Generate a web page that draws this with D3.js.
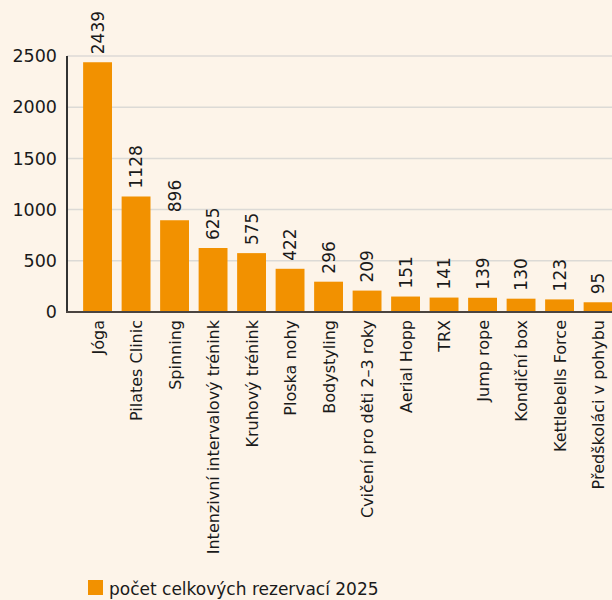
<!DOCTYPE html>
<html>
<head>
<meta charset="utf-8">
<script src="https://cdn.jsdelivr.net/npm/d3@7"></script>
<style>
  body { margin: 0; background: #fdf4e9; }
  svg { display: block; font-family: "DejaVu Sans", sans-serif; }
</style>
</head>
<body>
<svg id="chart" width="612" height="600"></svg>
<script>
var categories = ["Jóga", "Pilates Clinic", "Spinning", "Intenzivní intervalový trénink",
  "Kruhový trénink", "Ploska nohy", "Bodystyling", "Cvičení pro děti 2–3 roky",
  "Aerial Hopp", "TRX", "Jump rope", "Kondiční box", "Kettlebells Force", "Předškoláci v pohybu"];
var values = [2439, 1128, 896, 625, 575, 422, 296, 209, 151, 141, 139, 130, 123, 95];
var yTicks = [0, 500, 1000, 1500, 2000, 2500];
var seriesName = "počet celkových rezervací 2025";

var chart_width = 612, chart_height = 600;
var plot_left = 67, plot_top = 56, plot_bottom = 312;
var barColor = "#f29100";
var textColor = "#1a1a1a";

var svg = d3.select("#chart");
svg.append("rect").attr("width", chart_width).attr("height", chart_height).attr("fill", "#fdf4e9");

var x = d3.scaleBand()
  .domain(categories)
  .range([73.5, 73.5 + 14.25 * 38.5])
  .paddingInner(0.25)
  .paddingOuter(0.25);

var y = d3.scaleLinear()
  .domain([0, 2500])
  .range([plot_bottom, plot_top]);

// gridlines
svg.append("g")
  .selectAll("line")
  .data(yTicks.slice(1))
  .enter()
    .append("line")
    .attr("x1", plot_left)
    .attr("x2", chart_width)
    .attr("y1", function(d) { return y(d); })
    .attr("y2", function(d) { return y(d); })
    .attr("stroke", "#dcdad6")
    .attr("stroke-width", 1.5);

// y axis labels
var yAxis = d3.axisLeft(y).tickValues(yTicks).tickSize(0).tickPadding(10).tickFormat(d3.format("d"));
var yg = svg.append("g").attr("transform", "translate(" + plot_left + ",0)").call(yAxis);
yg.select(".domain").remove();
yg.selectAll("text")
  .attr("font-size", 17.5)
  .attr("fill", textColor)
  .attr("font-family", "DejaVu Sans, sans-serif");

// bars
svg.append("g")
  .selectAll("rect")
  .data(values)
  .enter()
    .append("rect")
    .attr("x", function(d, i) { return x(categories[i]); })
    .attr("y", function(d) { return y(d); })
    .attr("width", x.bandwidth())
    .attr("height", function(d) { return plot_bottom - y(d); })
    .attr("fill", barColor);

// value labels
svg.append("g")
  .selectAll("text")
  .data(values)
  .enter()
    .append("text")
    .attr("transform", function(d, i) {
      return "translate(" + (x(categories[i]) + x.bandwidth() / 2 + 6) + "," + (y(d) - 8) + ") rotate(-90)";
    })
    .attr("font-size", 17)
    .attr("fill", textColor)
    .text(function(d) { return d; });

// axis lines
svg.append("line")
  .attr("x1", plot_left).attr("x2", plot_left)
  .attr("y1", plot_top).attr("y2", plot_bottom + 1)
  .attr("stroke", "#333").attr("stroke-width", 2);
svg.append("line")
  .attr("x1", plot_left - 1).attr("x2", chart_width)
  .attr("y1", plot_bottom).attr("y2", plot_bottom)
  .attr("stroke", "#4a4440").attr("stroke-width", 2);

// category labels
svg.append("g")
  .selectAll("text")
  .data(categories)
  .enter()
    .append("text")
    .attr("transform", function(d) {
      return "translate(" + (x(d) + x.bandwidth() / 2 + 6) + "," + (plot_bottom + 8) + ") rotate(-90)";
    })
    .attr("text-anchor", "end")
    .attr("font-size", 16)
    .attr("fill", textColor)
    .text(function(d) { return d; });

// legend
var legend = svg.append("g").attr("transform", "translate(88,580)");
legend.append("rect").attr("width", 15).attr("height", 15).attr("fill", barColor);
legend.append("text")
  .attr("x", 21).attr("y", 15)
  .attr("font-size", 17)
  .attr("fill", textColor)
  .text(seriesName);
</script>
</body>
</html>
